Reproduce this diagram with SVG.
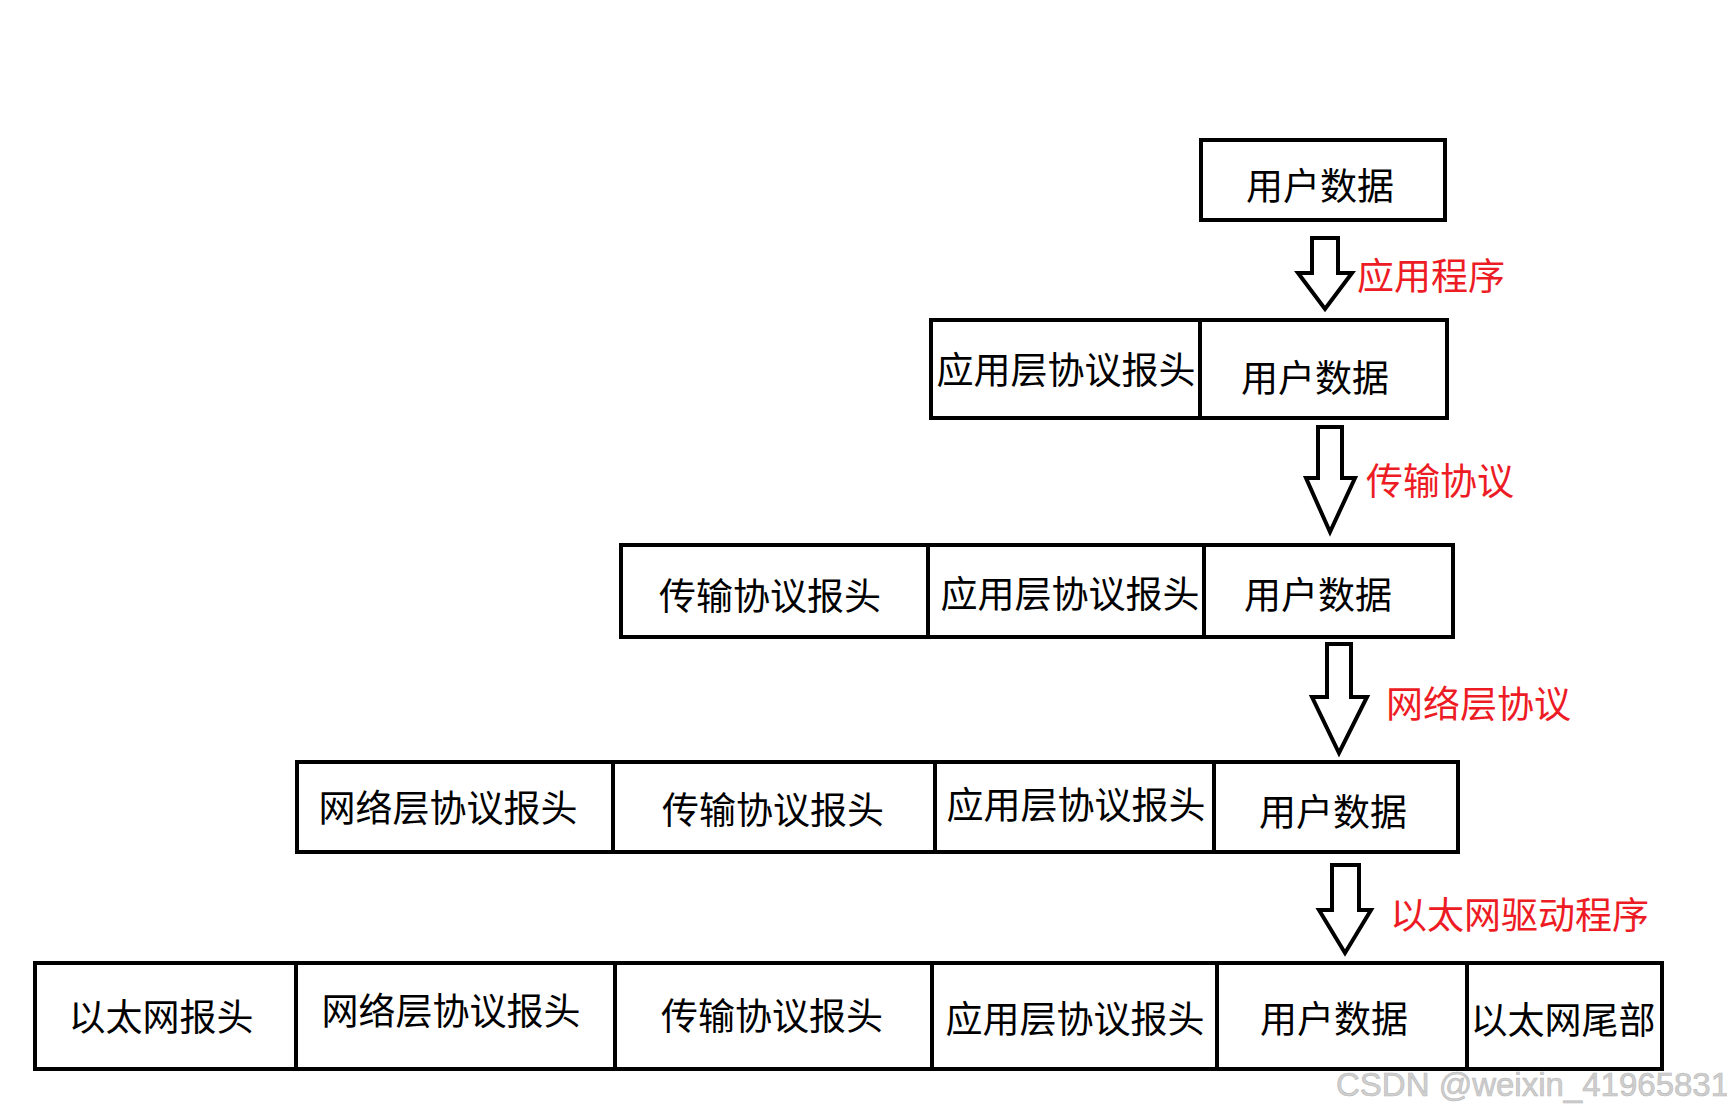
<svg xmlns="http://www.w3.org/2000/svg" width="1727" height="1115" viewBox="0 0 1727 1115">
<style>
  .cell { fill: #ffffff; stroke: #000000; stroke-width: 4; }
  .t { font-family: "Liberation Sans", "Noto Sans CJK SC", sans-serif; font-size: 37px; fill: #000000; text-anchor: middle; }
  .lbl { font-family: "Liberation Sans", "Noto Sans CJK SC", sans-serif; font-size: 37px; fill: #ED1C24; }
  .arrow { fill: #ffffff; stroke: #000000; stroke-width: 4; stroke-linejoin: miter; stroke-miterlimit: 10; }
  .wm { font-family: "Liberation Sans", Arial, sans-serif; font-size: 33px; fill: #cfcfcf; stroke: #b8b8b8; stroke-width: 0.6; }
</style>
<rect x="0" y="0" width="1727" height="1115" fill="#ffffff"/>

<!-- Row 1 -->
<g id="r1-data"><rect class="cell" x="1201" y="140" width="244" height="80"/><text class="t" x="1320" y="200">用户数据</text></g>

<!-- Row 2 -->
<g id="r2-app"><rect class="cell" x="931" y="320" width="269" height="98"/><text class="t" x="1066" y="384">应用层协议报头</text></g>
<g id="r2-data"><rect class="cell" x="1200" y="320" width="247" height="98"/><text class="t" x="1315" y="392">用户数据</text></g>

<!-- Row 3 -->
<g id="r3-tcp"><rect class="cell" x="621" y="545" width="307" height="92"/><text class="t" x="770" y="610">传输协议报头</text></g>
<g id="r3-app"><rect class="cell" x="928" y="545" width="276" height="92"/><text class="t" x="1070" y="608">应用层协议报头</text></g>
<g id="r3-data"><rect class="cell" x="1204" y="545" width="249" height="92"/><text class="t" x="1318" y="609">用户数据</text></g>

<!-- Row 4 -->
<g id="r4-ip"><rect class="cell" x="297" y="762" width="316" height="90"/><text class="t" x="448" y="822">网络层协议报头</text></g>
<g id="r4-tcp"><rect class="cell" x="613" y="762" width="322" height="90"/><text class="t" x="773" y="824">传输协议报头</text></g>
<g id="r4-app"><rect class="cell" x="935" y="762" width="279" height="90"/><text class="t" x="1076" y="819">应用层协议报头</text></g>
<g id="r4-data"><rect class="cell" x="1214" y="762" width="244" height="90"/><text class="t" x="1333" y="826">用户数据</text></g>

<!-- Row 5 -->
<g id="r5-eth"><rect class="cell" x="35" y="963" width="261" height="106"/><text class="t" x="161" y="1031">以太网报头</text></g>
<g id="r5-ip"><rect class="cell" x="296" y="963" width="319" height="106"/><text class="t" x="451" y="1025">网络层协议报头</text></g>
<g id="r5-tcp"><rect class="cell" x="615" y="963" width="317" height="106"/><text class="t" x="772" y="1030">传输协议报头</text></g>
<g id="r5-app"><rect class="cell" x="932" y="963" width="285" height="106"/><text class="t" x="1075" y="1033">应用层协议报头</text></g>
<g id="r5-data"><rect class="cell" x="1217" y="963" width="250" height="106"/><text class="t" x="1334" y="1033">用户数据</text></g>
<g id="r5-tail"><rect class="cell" x="1467" y="963" width="195" height="106"/><text class="t" x="1563" y="1034">以太网尾部</text></g>

<!-- Connectors -->
<g id="connectors">
  <g id="arrow1"><polygon class="arrow" points="1312,238 1338,238 1338,273 1352,273 1325,309 1298,273 1312,273"/><text class="lbl" x="1357" y="290">应用程序</text></g>
  <g id="arrow2"><polygon class="arrow" points="1318,427 1342,427 1342,478 1355,478 1330,532 1306,478 1318,478"/><text class="lbl" x="1366" y="495">传输协议</text></g>
  <g id="arrow3"><polygon class="arrow" points="1327,644 1351,644 1351,697 1367,697 1339,753 1312,697 1327,697"/><text class="lbl" x="1386" y="718">网络层协议</text></g>
  <g id="arrow4"><polygon class="arrow" points="1332,865 1359,865 1359,910 1371,910 1345,953 1319,910 1332,910"/><text class="lbl" x="1390" y="929">以太网驱动程序</text></g>
</g>

<text class="wm" x="1336" y="1096">CSDN @weixin_41965831</text>
</svg>
